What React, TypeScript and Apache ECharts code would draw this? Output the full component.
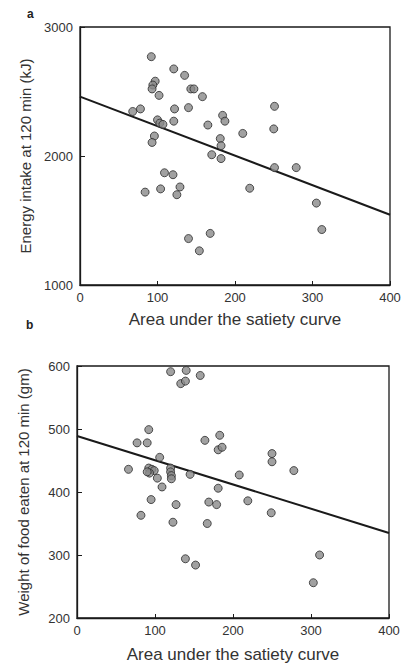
import React, { useEffect, useRef } from "react";
import * as echarts from "echarts";

// Panel a: area under satiety curve vs energy intake at 120 min (kJ)
const energyPoints: [number, number][] = [
  [92, 2770], [121, 2675], [135, 2625], [97, 2580], [94, 2550], [93, 2520],
  [102, 2470], [143, 2520], [147, 2520], [158, 2460], [68, 2345], [78, 2365],
  [122, 2365], [140, 2375], [251, 2385], [100, 2280], [103, 2255], [107, 2245],
  [121, 2270], [165, 2240], [184, 2315], [187, 2270], [210, 2175], [250, 2210],
  [96, 2155], [93, 2105], [181, 2135], [182, 2080], [170, 2010], [182, 1980],
  [251, 1910], [279, 1910], [109, 1870], [120, 1855], [84, 1720], [104, 1745],
  [129, 1760], [125, 1700], [219, 1750], [305, 1635], [312, 1430], [140, 1360],
  [168, 1400], [154, 1265],
];
const energyFit: [number, number][] = [[0, 2460], [400, 1545]];

// Panel b: area under satiety curve vs weight of food eaten at 120 min (gm)
const weightPoints: [number, number][] = [
  [120, 591], [140, 593], [158, 585], [133, 572], [139, 576], [92, 499],
  [77, 478], [90, 478], [183, 490], [164, 482], [181, 467], [186, 471],
  [106, 455], [250, 461], [250, 448], [66, 436], [92, 438], [96, 436],
  [99, 434], [93, 430], [90, 432], [103, 422], [109, 408], [120, 438],
  [120, 432], [121, 426], [121, 421], [145, 428], [208, 427], [278, 434],
  [181, 406], [95, 388], [82, 363], [127, 380], [123, 352], [169, 384],
  [179, 380], [167, 350], [219, 386], [249, 367], [139, 294], [152, 284],
  [311, 300], [303, 256],
];
const weightFit: [number, number][] = [[0, 489], [400, 335]];

const xTicks = [0, 100, 200, 300, 400];
const energyTicks = [1000, 2000, 3000];
const weightTicks = [200, 300, 400, 500, 600];

const xTitle = "Area under the satiety curve";
const energyTitle = "Energy intake at 120 min (kJ)";
const weightTitle = "Weight of food eaten at 120 min (gm)";
const panelA = "a";
const panelB = "b";

const FONT = "Liberation Sans";
const TEXT = "#333";
const LINE = "#1a1a1a";

export default function App() {
  const ref = useRef<HTMLDivElement>(null);
  useEffect(() => {
    if (!ref.current) return;
    const chart = echarts.init(ref.current, null, { renderer: "svg" });
    const xAxisBase = (gridIndex: number, gap: number) => ({
      type: "value" as const,
      gridIndex,
      min: xTicks[0],
      max: xTicks[xTicks.length - 1],
      interval: 100,
      name: xTitle,
      nameLocation: "middle" as const,
      nameGap: gap,
      nameTextStyle: { fontFamily: FONT, fontSize: 17, color: TEXT },
      axisLine: { show: true, lineStyle: { color: LINE, width: 1.3 } },
      axisTick: { show: true, inside: true, length: 4, lineStyle: { color: LINE } },
      axisLabel: { fontFamily: FONT, fontSize: 13, color: TEXT, margin: 6, formatter: (v: number) => String(v) },
      splitLine: { show: false },
    });
    const yAxisBase = (gridIndex: number, ticks: number[], name: string, interval: number) => ({
      type: "value" as const,
      gridIndex,
      min: ticks[0],
      max: ticks[ticks.length - 1],
      interval,
      name,
      nameLocation: "middle" as const,
      nameGap: 46,
      nameTextStyle: { fontFamily: FONT, fontSize: 15, color: TEXT },
      axisLine: { show: true, lineStyle: { color: LINE, width: 1.3 } },
      axisTick: { show: true, inside: true, length: 5, lineStyle: { color: LINE } },
      axisLabel: { fontFamily: FONT, fontSize: 13, color: TEXT, margin: 7, formatter: (v: number) => String(v) },
      splitLine: { show: false },
    });
    const scatterStyle = {
      type: "scatter" as const,
      symbol: "circle",
      symbolSize: 8,
      itemStyle: { color: "#8a8a8a", borderColor: "#2a2a2a", borderWidth: 1 },
      z: 3,
    };
    const fitStyle = {
      type: "line" as const,
      showSymbol: false,
      symbol: "none",
      lineStyle: { color: LINE, width: 2 },
      z: 2,
    };
    chart.setOption({
      animation: false,
      backgroundColor: "#fff",
      grid: [
        { left: 80, top: 27, width: 310, height: 258, show: true, borderColor: LINE, borderWidth: 1.3 },
        { left: 77, top: 366, width: 312, height: 252, show: true, borderColor: LINE, borderWidth: 1.3 },
      ],
      xAxis: [xAxisBase(0, 26), xAxisBase(1, 28)],
      yAxis: [
        yAxisBase(0, energyTicks, energyTitle, 1000),
        yAxisBase(1, weightTicks, weightTitle, 100),
      ],
      graphic: [
        { type: "text", left: 27, top: 8, style: { text: panelA, fontFamily: FONT, fontSize: 12, fontWeight: "bold", fill: "#222" } },
        { type: "text", left: 26, top: 319, style: { text: panelB, fontFamily: FONT, fontSize: 12, fontWeight: "bold", fill: "#222" } },
      ],
      series: [
        { ...fitStyle, xAxisIndex: 0, yAxisIndex: 0, data: energyFit },
        { ...scatterStyle, xAxisIndex: 0, yAxisIndex: 0, data: energyPoints },
        { ...fitStyle, xAxisIndex: 1, yAxisIndex: 1, data: weightFit },
        { ...scatterStyle, xAxisIndex: 1, yAxisIndex: 1, data: weightPoints },
      ],
    });
    return () => chart.dispose();
  }, []);
  return <div ref={ref} style={{ position: "absolute", left: 0, top: 0, width: 412, height: 666 }} />;
}
